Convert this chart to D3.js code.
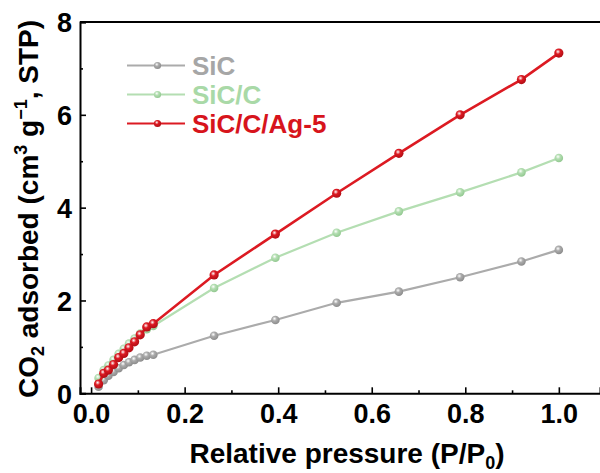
<!DOCTYPE html>
<html>
<head>
<meta charset="utf-8">
<script src="https://cdn.jsdelivr.net/npm/d3@7"></script>
<style>
    body { margin: 0; background: #fff; }
    text { font-family: "Liberation Sans", Arial, sans-serif; font-weight: bold; }
</style>
</head>
<body>
<svg width="600" height="473"></svg>
<script>
// relative pressure P/P0 (shared by the three samples)
const pressure = [0.016, 0.027, 0.037, 0.048, 0.059, 0.07, 0.081, 0.093, 0.105, 0.119, 0.133,
    0.263, 0.394, 0.525, 0.658, 0.789, 0.92, 1.0];
// CO2 uptake, cm3 g-1 STP
const sic = [0.14, 0.28, 0.38, 0.46, 0.54, 0.61, 0.67, 0.72, 0.77, 0.81, 0.83,
    1.24, 1.58, 1.95, 2.19, 2.5, 2.84, 3.09];
const sicC = [0.33, 0.5, 0.6, 0.72, 0.85, 0.96, 1.07, 1.18, 1.29, 1.38, 1.45,
    2.27, 2.92, 3.46, 3.92, 4.33, 4.76, 5.07];
const sicCAg = [0.2, 0.43, 0.5, 0.62, 0.77, 0.86, 0.98, 1.11, 1.26, 1.43, 1.5,
    2.55, 3.43, 4.31, 5.17, 6.0, 6.76, 7.33];
const seriesNames = ['SiC', 'SiC/C', 'SiC/C/Ag-5'];
const xTicks = [0, 0.2, 0.4, 0.6, 0.8, 1.0];
const yTicks = [0, 2, 4, 6, 8];

const colors = ['#ababab', '#b4deb2', '#dc1a22'];
const dark = ['#8c8c8c', '#92c890', '#b00d14'];
const textColors = ['#a6a6a6', '#a9d9a7', '#d7141c'];

const svg = d3.select('svg');
const margin = { top: 22, left: 80 };
const width = +svg.attr('width');

const xScale = d3.scaleLinear().domain([-0.0237, 1.088]).range([margin.left, width]);
const yScale = d3.scaleLinear().domain([0, 8]).range([393.3, margin.top]);

// sphere-like marker fills
const defs = svg.append('defs');
seriesNames.forEach((name, i) => {
    const grad = defs.append('radialGradient')
        .attr('id', 'ball' + i)
        .attr('cx', '40%').attr('cy', '35%').attr('r', '65%');
    grad.append('stop').attr('offset', '0%').attr('stop-color', '#fff');
    grad.append('stop').attr('offset', '40%').attr('stop-color', colors[i]);
    grad.append('stop').attr('offset', '100%').attr('stop-color', dark[i]);
});

// axes: ticks pointing inside
const minorX = [0.1, 0.3, 0.5, 0.7, 0.9];
const minorY = [1, 3, 5, 7];

svg.append('g')
    .attr('transform', `translate(0,${yScale(0)})`)
    .call(d3.axisBottom(xScale).tickValues(minorX).tickSize(-3).tickFormat(''))
    .call(g => g.select('.domain').remove());
const xAxisG = svg.append('g')
    .attr('transform', `translate(0,${yScale(0)})`)
    .call(d3.axisBottom(xScale).tickValues(xTicks).tickSize(-6).tickPadding(11)
        .tickFormat(d3.format('.1f')));

svg.append('g')
    .attr('transform', `translate(${margin.left},0)`)
    .call(d3.axisLeft(yScale).tickValues(minorY).tickSize(-3).tickFormat(''))
    .call(g => g.select('.domain').remove());
const yAxisG = svg.append('g')
    .attr('transform', `translate(${margin.left},0)`)
    .call(d3.axisLeft(yScale).tickValues(yTicks).tickSize(-6).tickPadding(8));

svg.selectAll('.tick line').attr('stroke', '#000').attr('stroke-width', 1.6);
[xAxisG, yAxisG].forEach(g => {
    g.select('.domain').attr('stroke-width', 2);
    g.selectAll('.tick text').attr('font-size', 27).attr('fill', '#000')
        .style('font-family', '"Liberation Sans", Arial, sans-serif').style('font-weight', 'bold');
});
xAxisG.selectAll('.tick text').attr('dy', '0.71em');
yAxisG.selectAll('.tick text').attr('dy', '0.36em');

// top frame line
svg.append('line')
    .attr('x1', margin.left).attr('x2', width)
    .attr('y1', yScale(8)).attr('y2', yScale(8))
    .attr('stroke', '#000').attr('stroke-width', 2);

// series
const allSeries = [sic, sicC, sicCAg];
const line = d3.line().x((d, i) => xScale(pressure[i])).y(d => yScale(d));

allSeries.forEach((values, i) => {
    const g = svg.append('g');
    g.append('path')
        .datum(values)
        .attr('fill', 'none')
        .attr('stroke', colors[i])
        .attr('stroke-width', i === 2 ? 2.6 : 2.2)
        .attr('d', line);
    g.selectAll('circle').data(values)
        .enter().append('circle')
        .attr('cx', (d, j) => xScale(pressure[j]))
        .attr('cy', d => yScale(d))
        .attr('r', i === 2 ? 4.6 : 4.3)
        .attr('fill', `url(#ball${i})`);
});

// legend
const legend = svg.append('g');
seriesNames.forEach((name, i) => {
    const y = 65.5 + i * 29;
    legend.append('line')
        .attr('x1', 127).attr('x2', 185).attr('y1', y).attr('y2', y)
        .attr('stroke', colors[i]).attr('stroke-width', 2.2);
    legend.append('circle')
        .attr('cx', 157.5).attr('cy', y).attr('r', 3.6)
        .attr('fill', `url(#ball${i})`);
    legend.append('text')
        .attr('x', 192).attr('y', y + 9)
        .attr('font-size', 26)
        .attr('fill', textColors[i])
        .text(name);
});

// axis titles
svg.append('text')
    .attr('x', 347).attr('y', 463)
    .attr('text-anchor', 'middle')
    .attr('font-size', 28)
    .html('Relative pressure (P/P<tspan font-size="18" dy="6">0</tspan><tspan dy="-6">)</tspan>');

svg.append('text')
    .attr('transform', 'translate(38,209) rotate(-90)')
    .attr('text-anchor', 'middle')
    .attr('font-size', 28)
    .html('CO<tspan font-size="18" dy="6">2</tspan><tspan dy="-6"> adsorbed (cm</tspan>' +
        '<tspan font-size="18" dy="-11">3</tspan><tspan dy="11"> g</tspan>' +
        '<tspan font-size="18" dy="-11">\u22121</tspan><tspan dy="11">, STP)</tspan>');
</script>
</body>
</html>
